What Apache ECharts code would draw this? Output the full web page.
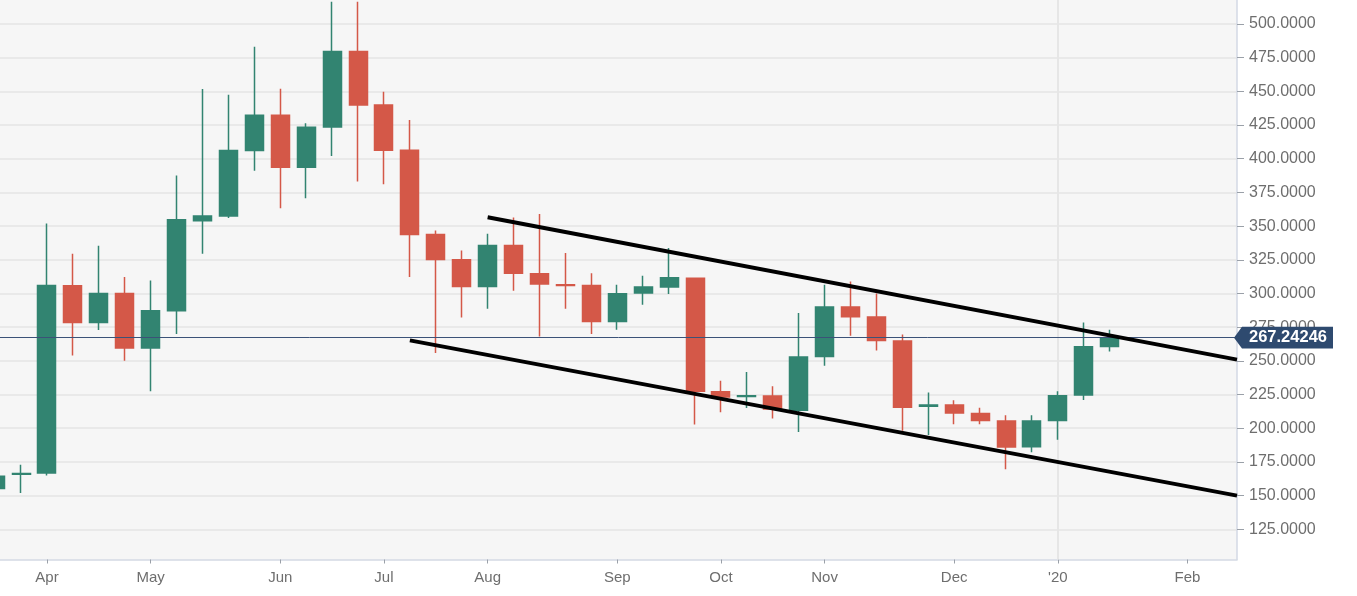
<!DOCTYPE html>
<html><head><meta charset="utf-8">
<script src="https://cdn.jsdelivr.net/npm/echarts@6/dist/echarts.min.js"></script>
<style>html,body{margin:0;padding:0;background:#fff}#c{width:1357px;height:596px}</style>
</head><body><div id="c"></div>
<script>
// weekly candles, index 0 = week of 1 Apr 2019
const weekIdx = [-2,-1,0,1,2,3,4,5,6,7,8,9,10,11,12,13,14,15,16,17,18,19,20,21,22,23,24,25,26,27,28,29,30,31,32,33,34,35,36,37,38,39,40,41];
const opens  = [155.2,165.8,166.8,305.7,278.5,300.0,259.5,287.2,354.0,357.6,406.1,432.3,393.7,423.6,479.5,439.9,406.3,343.8,325.0,305.2,335.6,314.6,306.5,305.9,279.3,300.3,304.8,311.4,227.1,223.5,223.9,213.3,253.3,289.9,282.5,264.7,216.3,217.3,211.0,205.4,186.3,205.8,224.7,260.7];
const closes = [164.3,166.5,306.0,278.5,300.0,259.5,287.2,354.7,357.6,406.1,432.3,393.7,423.4,479.5,439.9,406.3,343.8,325.2,305.2,335.6,315.1,307.0,306.0,279.3,299.8,304.8,311.7,227.4,223.2,224.2,214.3,252.8,289.9,282.7,265.2,215.5,217.3,211.3,205.8,186.1,205.4,224.2,260.5,267.24246];
const lows   = [154.0,152.0,165.0,254.0,273.0,250.0,227.4,270.0,329.5,356.0,391.0,363.3,370.7,402.1,383.1,381.1,312.2,255.8,282.2,288.7,302.0,268.1,288.7,269.9,273.1,291.6,299.6,202.7,211.8,215.0,207.3,197.2,246.4,268.6,257.7,198.2,195.0,202.9,202.9,169.5,182.1,191.5,221.0,257.0];
const highs  = [165.0,173.0,352.0,329.5,335.4,312.2,309.7,387.5,451.8,447.4,483.2,452.0,426.4,516.5,516.5,449.8,428.8,346.7,331.9,344.3,356.4,358.9,330.0,315.1,306.5,313.1,333.7,311.5,235.3,241.7,231.1,285.5,306.5,308.9,300.0,269.6,226.6,220.7,215.3,209.6,209.6,227.4,278.5,273.1];

const monthTickIdx = [0,4,9,13,17,22,26,30,35,39,44];
const monthLabels  = ['Apr','May','Jun','Jul','Aug','Sep','Oct','Nov','Dec',"'20",'Feb'];
const priceTicks = [125,150,175,200,225,250,275,300,325,350,375,400,425,450,475,500];
const upperChannel = [[17,356.6],[45.91,250.9]];
const lowerChannel = [[14,265.2],[45.91,150.0]];
const lastPrice = 267.24246;
const yearStartIdx = 39;

const GREEN = '#328471', RED = '#d45848';
const candleData = weekIdx.map((x,i)=>[x,opens[i],closes[i],lows[i],highs[i]]);

const chart = echarts.init(document.getElementById('c'));
const FONT = 'Liberation Sans, Arial, sans-serif';
chart.setOption({
  animation:false,
  backgroundColor:'#ffffff',
  grid:{left:0,right:120,top:0,bottom:36.5,show:true,backgroundColor:'#f6f6f6',borderWidth:0},
  xAxis:{
    type:'value', min:-1.813, max:45.91,
    axisLine:{show:true,onZero:false,lineStyle:{color:'#d3d9e4',width:1.5}},
    axisTick:{show:true,customValues:monthTickIdx,length:4,lineStyle:{color:'#9aa0a8'}},
    axisLabel:{customValues:monthTickIdx,color:'#6e6e6e',fontSize:15,fontFamily:FONT,margin:11,
      formatter:v=>{const k=monthTickIdx.indexOf(Math.round(v));return k>=0?monthLabels[k]:'';}},
    splitLine:{show:false}
  },
  yAxis:{
    type:'value', position:'right', min:102.6, max:517.8,
    axisLine:{show:true,onZero:false,lineStyle:{color:'#d3d9e4',width:1.5}},
    axisTick:{show:true,customValues:priceTicks,length:7,lineStyle:{color:'#9aa0a8'}},
    axisLabel:{customValues:priceTicks,color:'#6e6e6e',fontSize:16,fontFamily:FONT,margin:12,
      formatter:v=>v.toFixed(4)},
    splitLine:{show:true,lineStyle:{color:'#e4e4e4',width:1.5}}
  },
  series:[
    {type:'line',data:[],silent:true,z:1,
      markLine:{silent:true,symbol:'none',label:{show:false},z:1,
        lineStyle:{color:'#e6e6e6',width:2,type:'solid'},data:[{xAxis:yearStartIdx}]}},
    {type:'candlestick',z:3,barWidth:18.5,encode:{x:0,y:[1,2,3,4]},data:candleData,
      itemStyle:{color:GREEN,color0:RED,borderColor:GREEN,borderColor0:RED,borderWidth:1.5},
      markLine:{silent:true,symbol:'none',label:{show:false},z:4,
        lineStyle:{color:'#3b5278',width:1,type:'solid'},data:[{yAxis:lastPrice}]}},
    {type:'line',data:upperChannel,symbol:'none',lineStyle:{color:'#000',width:4},z:5},
    {type:'line',data:lowerChannel,symbol:'none',lineStyle:{color:'#000',width:4},z:5}
  ]
});
const py = chart.convertToPixel({yAxisIndex:0}, lastPrice);
const ax = chart.convertToPixel({xAxisIndex:0}, 45.91);
const h = 10.8;
chart.setOption({graphic:[
  {type:'polygon',z:100,shape:{points:[[ax-3,py],[ax+5,py-h],[1333,py-h],[1333,py+h],[ax+5,py+h]]},style:{fill:'#2e4a6f'}},
  {type:'text',z:101,x:1249,y:py,style:{text:lastPrice.toFixed(5),fill:'#ffffff',font:'bold 16.5px '+FONT,textVerticalAlign:'middle'}}
]});
</script></body></html>
